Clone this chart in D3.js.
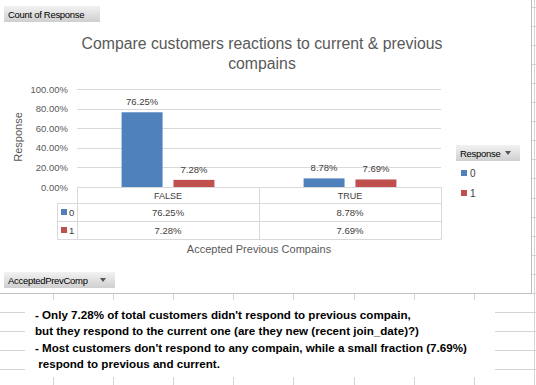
<!DOCTYPE html>
<html>
<head>
<meta charset="utf-8">
<script src="https://cdn.jsdelivr.net/npm/d3@7"></script>
<style>
  body { margin: 0; background: #fff; }
  svg { display: block; font-family: "Liberation Sans", Arial, sans-serif; }
</style>
</head>
<body>
<svg width="536" height="385"></svg>
<script>
// data
var categories = ['FALSE', 'TRUE'];
var responses = ['0', '1'];
var resp0 = [76.25, 8.78];
var resp1 = [7.28, 7.69];
var yTicks = [0, 20, 40, 60, 80, 100];
var colors = ['#4F81BD', '#C0504D'];

var titleLines = ['Compare customers reactions to current & previous', 'compains'];
var noteLines = [
  "- Only 7.28% of total customers didn't respond to previous compain,",
  "but they respond to the current one (are they new (recent join_date)?)",
  "- Most customers don't respond to any compain, while a small fraction (7.69%)",
  " respond to previous and current."
];

var svg = d3.select('svg');

// spreadsheet grid behind the chart
var sheetCols = d3.range(9).map(function (i) { return 53 + i * 60.1; });
var sheetRows = d3.range(21).map(function (i) { return 7 + i * 19.05; });
var grid = svg.append('g').attr('stroke', '#d4d4d4').attr('stroke-width', 1);
grid.selectAll('.gv').data(sheetCols).enter().append('line')
  .attr('x1', function (d) { return Math.round(d) + 0.5; })
  .attr('x2', function (d) { return Math.round(d) + 0.5; })
  .attr('y1', 0).attr('y2', 385);
grid.selectAll('.gh').data(sheetRows).enter().append('line')
  .attr('x1', 0).attr('x2', 536)
  .attr('y1', function (d) { return Math.round(d) + 0.5; })
  .attr('y2', function (d) { return Math.round(d) + 0.5; });

// chart area
svg.append('rect').attr('x', -1).attr('y', -1).attr('width', 532.5).attr('height', 294.5)
  .attr('fill', '#fff').attr('stroke', '#bfbfbf');

// button helper (pivot field buttons)
var grad = svg.append('defs').append('linearGradient').attr('id', 'btn')
  .attr('x1', 0).attr('y1', 0).attr('x2', 0).attr('y2', 1);
grad.append('stop').attr('offset', '0%').attr('stop-color', '#f2f2f2');
grad.append('stop').attr('offset', '100%').attr('stop-color', '#cfcfcf');

function button(x, y, w, h, label, arrow) {
  var b = svg.append('g').attr('transform', 'translate(' + x + ',' + y + ')');
  b.append('rect').attr('width', w).attr('height', h).attr('fill', 'url(#btn)');
  b.append('text').attr('x', 4).attr('y', h / 2 + 3.5).attr('font-size', 9.5)
    .attr('letter-spacing', -0.3).attr('fill', '#000').text(label);
  if (arrow) {
    b.append('path').attr('d', 'M' + (w - 15) + ',' + (h / 2 - 2) + 'l6,0l-3,4z').attr('fill', '#555');
  }
}
button(4, 6, 96, 16, 'Count of Response', false);
button(456, 145, 64, 16, 'Response', true);
button(4, 272, 111, 16, 'AcceptedPrevComp', true);

// title
svg.append('g').selectAll('text').data(titleLines).enter().append('text')
  .attr('x', 262).attr('y', function (d, i) { return 49 + i * 20; })
  .attr('text-anchor', 'middle').attr('font-size', 15.8).attr('fill', '#595959')
  .text(function (d) { return d; });

// scales
var x = d3.scaleBand().domain(categories).range([77, 441]);
var xSub = d3.scaleBand().domain(responses).range([0, x.bandwidth()])
  .paddingInner(0.21).paddingOuter(0.86);
var y = d3.scaleLinear().domain([0, 100]).range([187, 89]);

// gridlines
svg.append('g').selectAll('line').data(yTicks).enter().append('line')
  .attr('x1', 77).attr('x2', 441)
  .attr('y1', function (d) { return Math.round(y(d)) + 0.5; })
  .attr('y2', function (d) { return Math.round(y(d)) + 0.5; })
  .attr('stroke', '#d9d9d9');

// y axis labels
var yAxis = svg.append('g').attr('transform', 'translate(71,0)')
  .call(d3.axisLeft(y).tickValues(yTicks).tickSize(0)
    .tickFormat(function (d) { return d.toFixed(2) + '%'; }));
yAxis.select('.domain').remove();
yAxis.selectAll('text').attr('font-size', 9.5).attr('fill', '#595959')
  .attr('font-family', '"Liberation Sans", Arial, sans-serif');

// y title
svg.append('text').attr('transform', 'translate(22,137) rotate(-90)')
  .attr('text-anchor', 'middle').attr('font-size', 11).attr('fill', '#595959').text('Response');

// bars
var series = [resp0, resp1];
var groups = svg.append('g').selectAll('g').data(categories).enter().append('g')
  .attr('transform', function (d) { return 'translate(' + x(d) + ',0)'; });
groups.selectAll('rect').data(function (d, i) {
  return responses.map(function (r, j) { return { r: r, v: series[j][i] }; });
}).enter().append('rect')
  .attr('x', function (d) { return xSub(d.r); })
  .attr('width', xSub.bandwidth())
  .attr('y', function (d) { return y(d.v); })
  .attr('height', function (d) { return y(0) - y(d.v); })
  .attr('fill', function (d, j) { return colors[j]; });
groups.selectAll('text').data(function (d, i) {
  return responses.map(function (r, j) { return { r: r, v: series[j][i] }; });
}).enter().append('text')
  .attr('x', function (d) { return xSub(d.r) + xSub.bandwidth() / 2; })
  .attr('y', function (d) { return y(d.v) - 7; })
  .attr('text-anchor', 'middle').attr('font-size', 9.5).attr('fill', '#404040')
  .text(function (d) { return d.v.toFixed(2) + '%'; });

// data table under the axis
var rowY = [187, 203, 221, 239];
var table = svg.append('g').attr('stroke', '#d9d9d9').attr('fill', 'none');
table.append('path').attr('d',
  'M77.5,187V239.5M259.5,187V239.5M441.5,187V239.5' +
  'M57.5,203.5V239.5' +
  'M57,203.5H441M57,221.5H441M57,239.5H441');
svg.append('g').selectAll('text').data(categories).enter().append('text')
  .attr('x', function (d) { return x(d) + x.bandwidth() / 2; }).attr('y', 198.5)
  .attr('text-anchor', 'middle').attr('font-size', 9).attr('fill', '#404040')
  .text(function (d) { return d; });
responses.forEach(function (r, j) {
  var cy = (rowY[j + 1] + rowY[j + 2]) / 2;
  svg.append('rect').attr('x', 61).attr('y', cy - 3).attr('width', 6).attr('height', 6)
    .attr('fill', colors[j]);
  svg.append('text').attr('x', 69).attr('y', cy + 3.5).attr('font-size', 9.5)
    .attr('fill', '#404040').text(r);
  svg.append('g').selectAll('text').data(categories).enter().append('text')
    .attr('x', function (d) { return x(d) + x.bandwidth() / 2; }).attr('y', cy + 3.5)
    .attr('text-anchor', 'middle').attr('font-size', 9.5).attr('fill', '#404040')
    .text(function (d, i) { return series[j][i].toFixed(2) + '%'; });
});

// x title
svg.append('text').attr('x', 259).attr('y', 253).attr('text-anchor', 'middle')
  .attr('font-size', 11).attr('fill', '#595959').text('Accepted Previous Compains');

// legend
responses.forEach(function (r, j) {
  var ly = 173 + j * 20;
  svg.append('rect').attr('x', 461).attr('y', ly - 3).attr('width', 6).attr('height', 6)
    .attr('fill', colors[j]);
  svg.append('text').attr('x', 470).attr('y', ly + 4).attr('font-size', 10)
    .attr('fill', '#404040').text(r);
});

// note text box
svg.append('rect').attr('x', 25).attr('y', 300).attr('width', 470).attr('height', 77)
  .attr('fill', '#fff');
svg.append('g').selectAll('text').data(noteLines).enter().append('text')
  .attr('x', 35).attr('y', function (d, i) { return 319 + i * 16.3; })
  .attr('font-size', 11.6).attr('font-weight', 'bold').attr('fill', '#000')
  .attr('xml:space', 'preserve').style('white-space', 'pre')
  .text(function (d) { return d; });
</script>
</body>
</html>
